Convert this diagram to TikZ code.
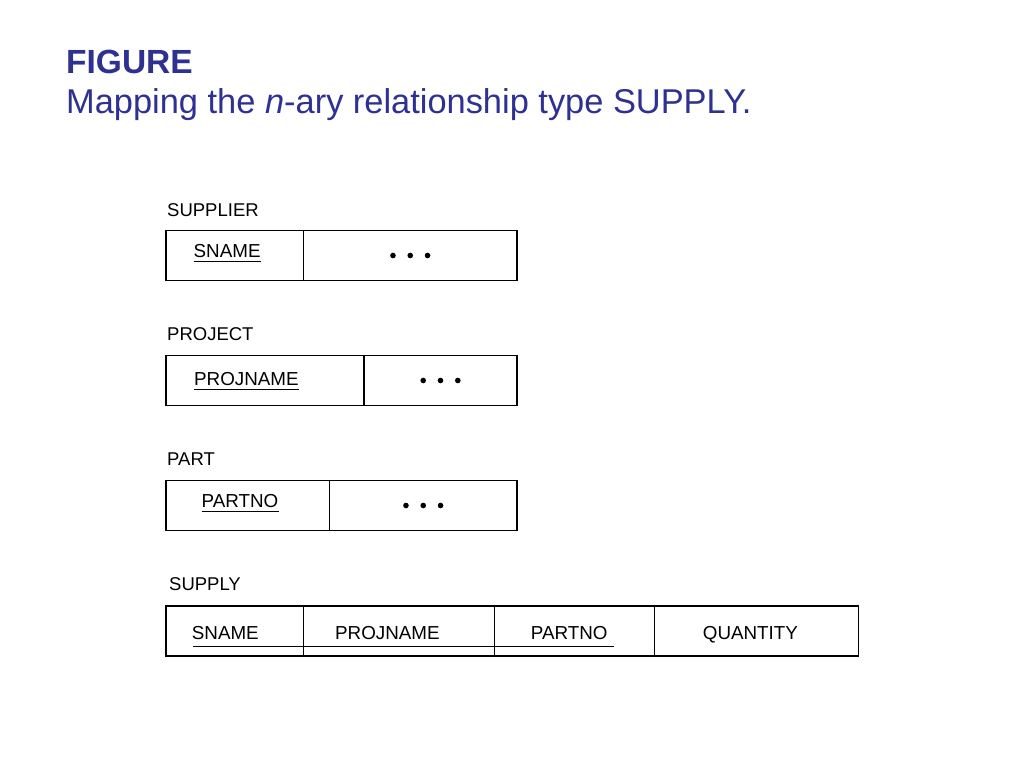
\documentclass[tikz,border=0pt]{standalone}
\usepackage{fontspec}
\setmainfont{Liberation Sans}
\usepackage{tikz}
\usetikzlibrary{positioning}
\definecolor{titleblue}{RGB}{46,49,146}

\begin{document}
\begin{tikzpicture}[x=1pt,y=-1pt,
    title/.style={anchor=base west, inner sep=0pt, text=titleblue, font=\fontsize{34.4}{40}\selectfont},
    cell/.style={draw, line width=1.1pt, minimum height=50pt, inner sep=0pt, outer sep=0pt},
    relname/.style={anchor=base west, inner sep=0pt, font=\fontsize{18.5}{22}\selectfont},
    attr/.style={anchor=base west, inner sep=0pt, font=\fontsize{18.8}{22}\selectfont},
    keyline/.style={line width=0.9pt}]

    \useasboundingbox[fill=white] (0,0) rectangle (1024,768);

    % caption
    \node[title, font=\fontsize{33.5}{40}\selectfont\bfseries] (fig) at (66,73.5) {FIGURE};
    \node[title] (caption) at (66,113) {Mapping the \textit{n}-ary relationship type SUPPLY.};

    % SUPPLIER
    \node[cell, minimum width=137.5pt, anchor=north west] (supK) at (166,230.5) {};
    \node[cell, minimum width=213.5pt, right=0pt of supK] (supR) {};
    \node[relname] (supL) at ([xshift=1pt,yshift=14.5pt]supK.north west) {SUPPLIER};
    \node[attr] (supSname) at (193.5,257) {SNAME};
    \draw[keyline] ([yshift=-4.5pt]supSname.base west) -- ([yshift=-4.5pt]supSname.base east);
    \foreach \dx in {-17.3,0,17.3}
      \fill ([xshift=\dx pt]supR.center) circle (2.8pt);

    % PROJECT
    \node[cell, minimum width=198pt, anchor=north west] (projK) at (166,355.5) {};
    \node[cell, minimum width=153pt, right=0pt of projK] (projR) {};
    \node[relname] (projL) at ([xshift=1pt,yshift=15pt]projK.north west) {PROJECT};
    \node[attr] (projPname) at (194,385) {PROJNAME};
    \draw[keyline] ([yshift=-4.5pt]projPname.base west) -- ([yshift=-4.5pt]projPname.base east);
    \foreach \dx in {-17.3,0,17.3}
      \fill ([xshift=\dx pt]projR.center) circle (2.8pt);

    % PART
    \node[cell, minimum width=163.5pt, anchor=north west] (partK) at (166,480.5) {};
    \node[cell, minimum width=187.5pt, right=0pt of partK] (partR) {};
    \node[relname] (partL) at ([xshift=1pt,yshift=15pt]partK.north west) {PART};
    \node[attr] (partPno) at (201.5,507.3) {PARTNO};
    \draw[keyline] ([yshift=-4pt]partPno.base west) -- ([yshift=-4pt]partPno.base east);
    \foreach \dx in {-17.3,0,17.3}
      \fill ([xshift=\dx pt]partR.center) circle (2.8pt);

    % SUPPLY
    \node[cell, minimum width=137.5pt, anchor=north west] (supplyA) at (166,606) {};
    \node[cell, minimum width=191pt, right=0pt of supplyA] (supplyB) {};
    \node[cell, minimum width=160pt, right=0pt of supplyB] (supplyC) {};
    \node[cell, minimum width=204pt, right=0pt of supplyC] (supplyD) {};
    \node[relname] (supplyL) at ([xshift=3pt,yshift=15.3pt]supplyA.north west) {SUPPLY};
    \node[attr] (supplySname) at (191.7,639) {SNAME};
    \node[attr] (supplyPname) at (335,639) {PROJNAME};
    \node[attr] (supplyPno) at (530.7,639) {PARTNO};
    \node[attr] (supplyQty) at (702.7,639) {QUANTITY};
    \draw[keyline] ([xshift=1.5pt,yshift=-7pt]supplySname.base west) -- ([xshift=6pt,yshift=-7pt]supplyPno.base east);
  \end{tikzpicture}
\end{document}
